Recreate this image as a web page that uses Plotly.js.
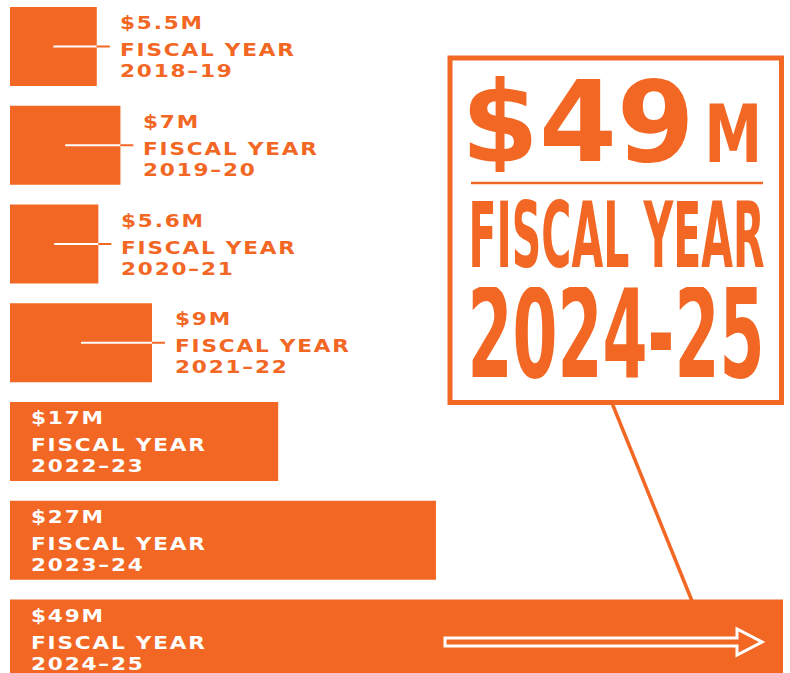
<!DOCTYPE html>
<html>
<head>
<meta charset="utf-8">
<script src="https://cdn.plot.ly/plotly-3.0.1.min.js"></script>
<style>html,body{margin:0;padding:0;background:#fff;}#chart{width:790px;height:673px;}</style>
</head>
<body>
<div id="chart"></div>
<script>
// ---- data ----
const categories = ['2018-19', '2019-20', '2020-21', '2021-22', '2022-23', '2023-24', '2024-25'];
const values = [5.5, 7, 5.6, 9, 17, 27, 49];
const valueLabels = ['$5.5M', '$7M', '$5.6M', '$9M', '$17M', '$27M', '$49M'];
const periodLabel = 'FISCAL YEAR';
const calloutNumber = '$49';
const calloutUnit = 'M';

// ---- style / layout constants ----
const ORANGE = '#F26724';
const W = 790, H = 673, ML = 10, MR = 7;
const PW = W - ML - MR;
const xMax = Math.max(...values);
const pxPerUnit = PW / xMax;
const X = px => (px - ML) / PW;
const Y = py => 1 - py / H;
const smallFont = 'DejaVu Sans, Verdana, sans-serif';
const narrowFont = 'Liberation Sans Narrow, DejaVu Sans Condensed, Arial Narrow, DejaVu Sans, sans-serif';
const spaced = s => '<span style="letter-spacing:1.5px">' + s + '</span>';
const STRETCH = 1.2;

const annotations = [];
const shapes = [];
const squeeze = {};
const stretch = [];

categories.forEach((cat, i) => {
  const v = values[i];
  const inside = v >= 12;
  const color = inside ? '#ffffff' : ORANGE;
  const base = {
    x: inside ? 0 : v, y: cat, xref: 'x', yref: 'y',
    xanchor: 'left', yanchor: 'middle', showarrow: false,
    xshift: inside ? 19 : 21,
    font: {family: smallFont, size: 18, color: color, weight: 700}
  };
  [[valueLabels[i], 24], [periodLabel, -3], [cat.replace('-', '–'), -24]].forEach(([txt, ys]) => {
    stretch.push(annotations.length);
    annotations.push(Object.assign({}, base, {text: spaced(txt), yshift: ys}));
  });
  if (!inside) {
    shapes.push({type: 'line', xref: 'x', yref: 'y', x0: v / 2, x1: v, y0: cat, y1: cat,
      line: {color: '#ffffff', width: 2}});
    shapes.push({type: 'line', xref: 'x', yref: 'y', x0: v, x1: v + 13 / pxPerUnit, y0: cat, y1: cat,
      line: {color: ORANGE, width: 2}});
  }
});

const hi = values.length - 1;
// callout box
shapes.push({type: 'rect', xref: 'paper', yref: 'paper', x0: X(450), x1: X(781.5), y0: Y(58), y1: Y(402.5),
  line: {color: ORANGE, width: 5}, fillcolor: 'rgba(0,0,0,0)'});
shapes.push({type: 'line', xref: 'paper', yref: 'paper', x0: X(471), x1: X(763), y0: Y(183), y1: Y(183),
  line: {color: ORANGE, width: 2.5}});
shapes.push({type: 'line', xref: 'paper', yref: 'paper', x0: X(612), x1: X(692), y0: Y(403), y1: Y(601),
  line: {color: ORANGE, width: 3.5}});
// hollow arrow on the last bar
const arrowPts = [[445, 638], [737, 638], [737, 629], [762, 642], [737, 655], [737, 646], [445, 646]];
shapes.push({type: 'path', xref: 'paper', yref: 'paper',
  path: 'M' + arrowPts.map(p => X(p[0]).toFixed(5) + ',' + Y(p[1]).toFixed(5)).join(' L') + ' Z',
  line: {color: '#ffffff', width: 3}, fillcolor: 'rgba(0,0,0,0)'});

annotations.push({xref: 'paper', yref: 'paper', x: X(578), y: Y(121.5), xanchor: 'center', yanchor: 'middle',
  showarrow: false, text: calloutNumber, height: 100,
  font: {family: 'DejaVu Sans, sans-serif', size: 112, color: ORANGE, weight: 700}});
squeeze[annotations.length] = 58;
annotations.push({xref: 'paper', yref: 'paper', x: X(733.5), y: Y(134), xanchor: 'center', yanchor: 'middle',
  showarrow: false, text: calloutUnit, height: 64,
  font: {family: narrowFont, size: 81, color: ORANGE, weight: 700}});
squeeze[annotations.length] = 296;
annotations.push({xref: 'paper', yref: 'paper', x: X(616), y: Y(235.5), xanchor: 'center', yanchor: 'middle',
  showarrow: false, text: periodLabel, height: 72,
  font: {family: narrowFont, size: 91, color: ORANGE, weight: 700}});
squeeze[annotations.length] = 297;
annotations.push({xref: 'paper', yref: 'paper', x: X(615.5), y: Y(334), xanchor: 'center', yanchor: 'middle',
  showarrow: false, text: categories[hi], height: 94,
  font: {family: narrowFont, size: 123, color: ORANGE, weight: 700}});

const data = [{
  type: 'bar', orientation: 'h', x: values, y: categories,
  marker: {color: ORANGE, line: {width: 0}}, hoverinfo: 'none'
}];

const layout = {
  width: W, height: H,
  margin: {l: ML, r: MR, t: 0, b: 0, pad: 0},
  paper_bgcolor: '#ffffff', plot_bgcolor: '#ffffff',
  showlegend: false, bargap: 0.2,
  xaxis: {range: [0, xMax], visible: false, fixedrange: true},
  yaxis: {type: 'category', categoryorder: 'array', categoryarray: categories,
    range: [6.3443, -0.4709], visible: false, fixedrange: true},
  shapes: shapes, annotations: annotations
};

function textOf(gd, idx) {
  return gd.querySelector('.annotation[data-index="' + idx + '"] text.annotation-text');
}

Plotly.newPlot('chart', data, layout, {displayModeBar: false, staticPlot: true}).then(gd => {
  Object.keys(squeeze).forEach(idx => {
    const t = textOf(gd, idx);
    if (!t) return;
    const bw = t.getBBox().width;
    if (!bw) return;
    t.style.transformBox = 'fill-box';
    t.style.transformOrigin = '50% 50%';
    t.style.transform = 'scaleX(' + (squeeze[idx] / bw) + ')';
  });
  stretch.forEach(idx => {
    const t = textOf(gd, idx);
    if (!t) return;
    t.style.transformBox = 'fill-box';
    t.style.transformOrigin = '0% 50%';
    t.style.transform = 'scaleX(' + STRETCH + ')';
  });
});
</script>
</body>
</html>
